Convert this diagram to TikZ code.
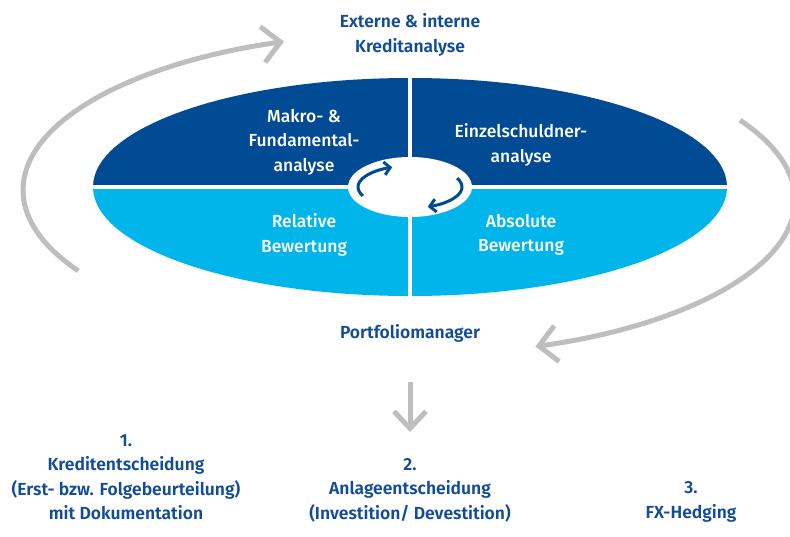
\documentclass[tikz,border=0pt]{standalone}
\usepackage{fontspec}
\setmainfont{Fira Sans}[BoldFont={Fira Sans SemiBold}]
\newfontfamily\medfont{Fira Sans Medium}
\usetikzlibrary{arrows.meta,positioning}
\definecolor{darkblue}{RGB}{0,75,147}
\definecolor{lightblue}{RGB}{0,181,234}
\definecolor{textblue}{RGB}{18,76,150}
\definecolor{arcgrey}{RGB}{190,190,190}

\begin{document}
\begin{tikzpicture}[x=1pt,y=1pt,thick]
\tikzstyle{blue text}=[text=textblue, font=\fontsize{17.5}{24.5}\selectfont\bfseries, align=center, inner sep=0pt]
\tikzstyle{white text}=[text=white, font=\fontsize{17.5}{24.5}\selectfont\medfont, align=center, inner sep=0pt]
\tikzstyle{grey arc}=[draw=arcgrey, line width=5pt, -{Straight Barb[length=18pt,width=36pt]}]
\tikzstyle{turn arrow}=[draw=darkblue, line width=3pt, -{Straight Barb[length=6pt,width=13pt]}]

\useasboundingbox (0,0) rectangle (790,-537);

% ellipse in four parts
\begin{scope}
\clip (410,-187) ellipse [x radius=317, y radius=109];
\fill[darkblue] (90,-187) rectangle (730,-75);
\fill[lightblue] (90,-187) rectangle (730,-300);
\end{scope}
\draw[white, line width=4pt] (88,-187) -- (732,-187);
\draw[white, line width=4pt] (410,-72) -- (410,-302);
\fill[white] (410,-187) ellipse [x radius=62, y radius=30];

% labels
\node[blue text]  (T) at (410,-35)  {Externe \& interne\\Kreditanalyse};
\node[white text] (M) at (304,-142) {Makro- \&\\Fundamental-\\analyse};
\node[white text] (E) at (521,-145) {Einzelschuldner-\\analyse};
\node[white text] (R) [below of=M, node distance=93pt] {Relative\\Bewertung};
\node[white text] (A) [right of=R, node distance=217pt] {Absolute\\Bewertung};
\node[blue text]  (P) at (410,-333) {Portfoliomanager};
\node[blue text]  (S1) at (126,-477) {1.\\Kreditentscheidung\\(Erst- bzw. Folgebeurteilung)\\mit Dokumentation};
\node[blue text]  (S2) at (410,-490) {2.\\Anlageentscheidung\\(Investition/ Devestition)};
\node[blue text]  (S3) at (691,-502) {3.\\FX-Hedging};

% cycle arrows
\coordinate (L) at (410,-190);
\coordinate (Q) at (410,-200);
\coordinate (C) at (410,-187);
\path[grey arc] ([shift={(211:387 and 157)}]L) arc[start angle=211, end angle=109, x radius=387, y radius=157];
\path[grey arc] ([shift={(31:385 and 155)}]Q) arc[start angle=31, end angle=-71, x radius=385, y radius=155];
\path[turn arrow] ([shift={(205:52 and 21)}]C) arc[start angle=205, end angle=110, x radius=52, y radius=21];
\path[turn arrow] ([shift={(25:52 and 21)}]C) arc[start angle=25, end angle=-70, x radius=52, y radius=21];

\coordinate (D1) at (410,-382);
\coordinate (D2) at (410,-432);
\path[grey arc, -{Straight Barb[length=17pt,width=32pt]}] (D1) -- (D2);
\end{tikzpicture}
\end{document}
